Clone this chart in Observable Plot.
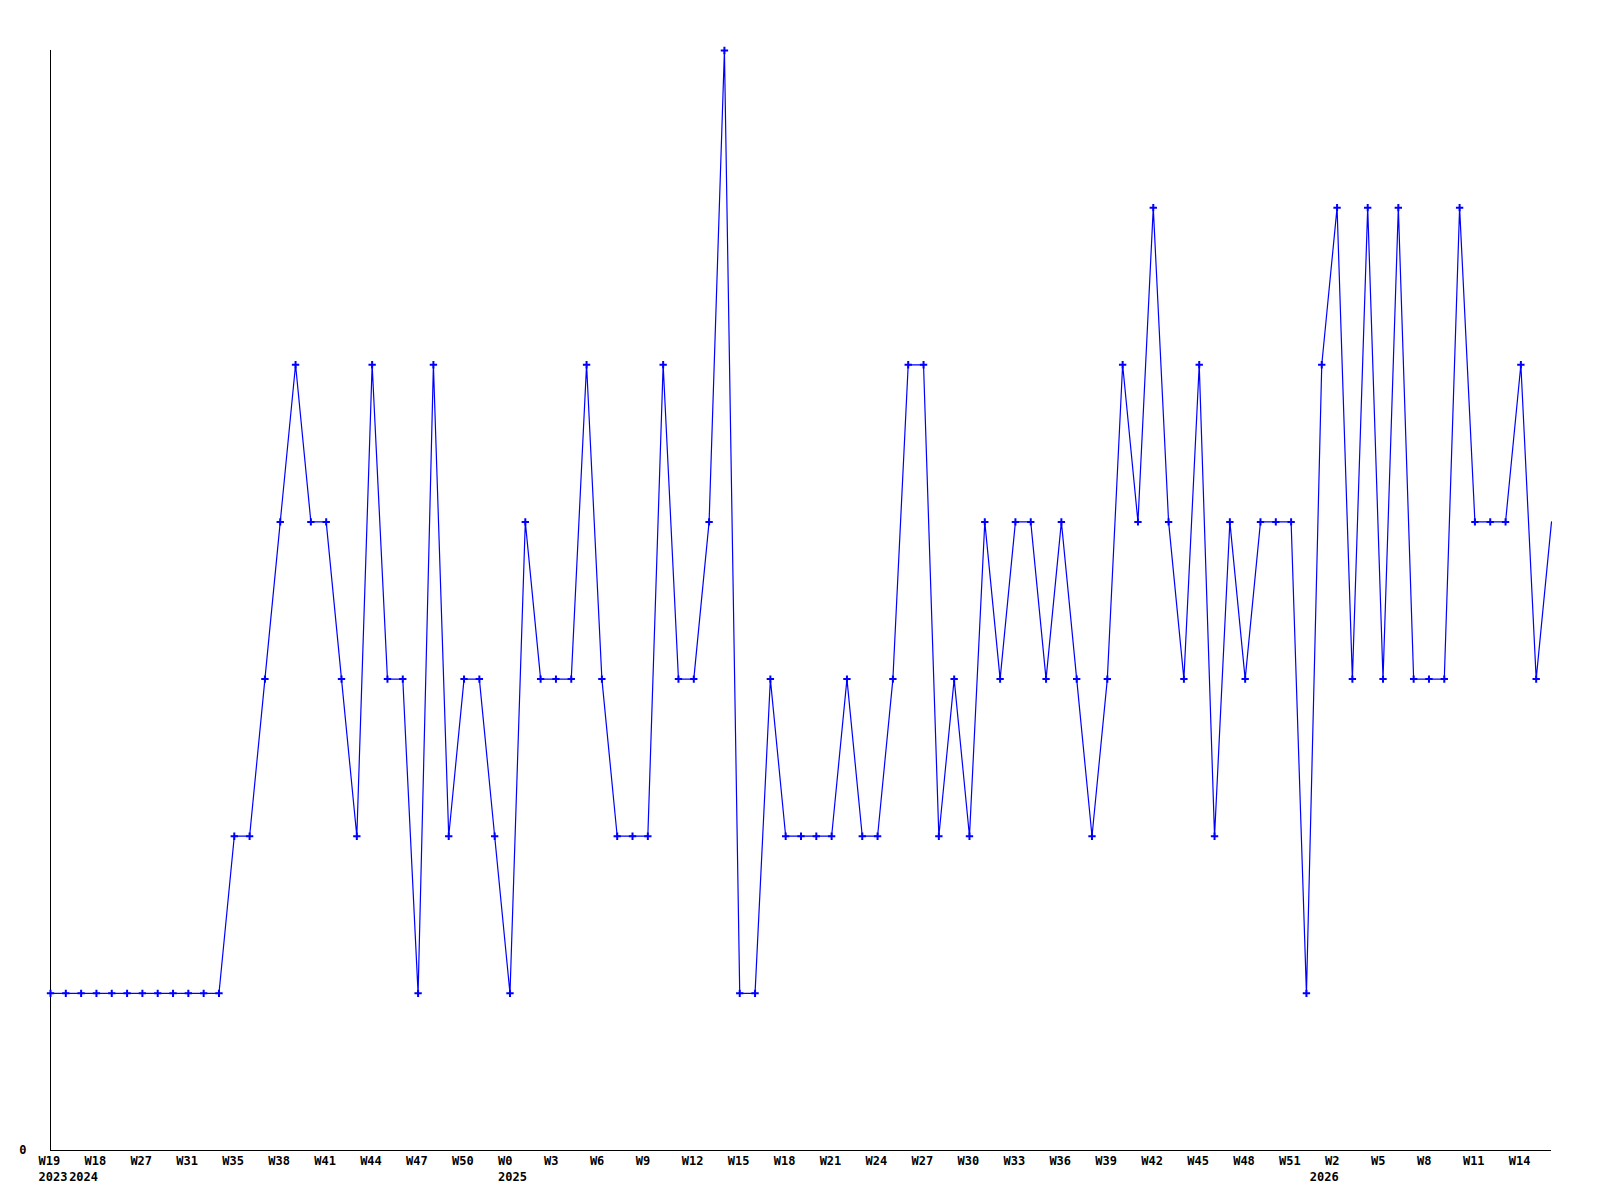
<!DOCTYPE html>
<html>
<head>
<meta charset="utf-8">
<script src="https://cdn.jsdelivr.net/npm/d3@7"></script>
<script src="https://cdn.jsdelivr.net/npm/@observablehq/plot@0.6"></script>
<style>
  html, body { margin: 0; padding: 0; background: #fff; }
</style>
</head>
<body>
<div id="chart"></div>
<script>
const values = [
  1,1,1,1,1,1,1,1,1,1,1,1,
  2,2,3,4,5,4,4,3,2,5,3,3,1,5,2,3,3,2,1,
  4,3,3,3,5,3,2,2,2,5,3,3,4,7,1,1,3,2,2,2,2,3,2,2,3,5,5,2,3,2,
  4,3,4,4,3,4,3,2,3,5,4,6,4,3,5,2,4,3,4,4,4,1,5,6,3,6,3,6,3,3,3,6,4,4,4,5,3,4
];
const weekLabels = [
  "W19","W18","W27","W31","W35","W38","W41","W44","W47","W50",
  "W0","W3","W6","W9","W12","W15","W18","W21","W24","W27","W30","W33",
  "W36","W39","W42","W45","W48","W51","W2","W5","W8","W11","W14"
];
const weekIndex = weekLabels.map((_, k) => k * 3);
const yearLabels = ["2023", "2024", "2025", "2026"];
const yearIndex = [0, 2, 30, 83];

const points = values.map((v, i) => ({i, v}));
const weeks = weekLabels.map((label, k) => ({i: weekIndex[k], label}));
const years = yearLabels.map((label, k) => ({i: yearIndex[k], label}));
const lastIndex = values.length - 1;

const chart = Plot.plot({
  width: 1600,
  height: 1200,
  marginLeft: 50,
  marginRight: 49,
  marginTop: 50,
  marginBottom: 50,
  style: {fontFamily: "DejaVu Sans Mono", fontWeight: "bold", fontSize: "12px", color: "#000", background: "#fff"},
  x: {domain: [0, lastIndex], axis: null},
  y: {domain: [0, 7]},
  marks: [
    Plot.axisY({ticks: [0], tickFormat: d => String(d), tickSize: 0, tickPadding: 24, label: null, fill: "#000"}),
    Plot.text(weeks, {x: "i", y: () => 0, text: "label", textAnchor: "start", dx: -12, dy: 11, fill: "#000"}),
    Plot.text(years, {x: "i", y: () => 0, text: "label", textAnchor: "start", dx: -12, dy: 27, fill: "#000"}),
    Plot.ruleX([0], {stroke: "#000", strokeWidth: 1}),
    Plot.ruleY([0], {stroke: "#000", strokeWidth: 1}),
    Plot.line(points, {x: "i", y: "v", stroke: "#0000ff", strokeWidth: 1.2}),
    Plot.dot(points.filter(d => d.i < lastIndex), {x: "i", y: "v", symbol: "plus", r: 2.5, stroke: "#0000ff", strokeWidth: 2})
  ]
});
document.getElementById("chart").appendChild(chart);
</script>
</body>
</html>
